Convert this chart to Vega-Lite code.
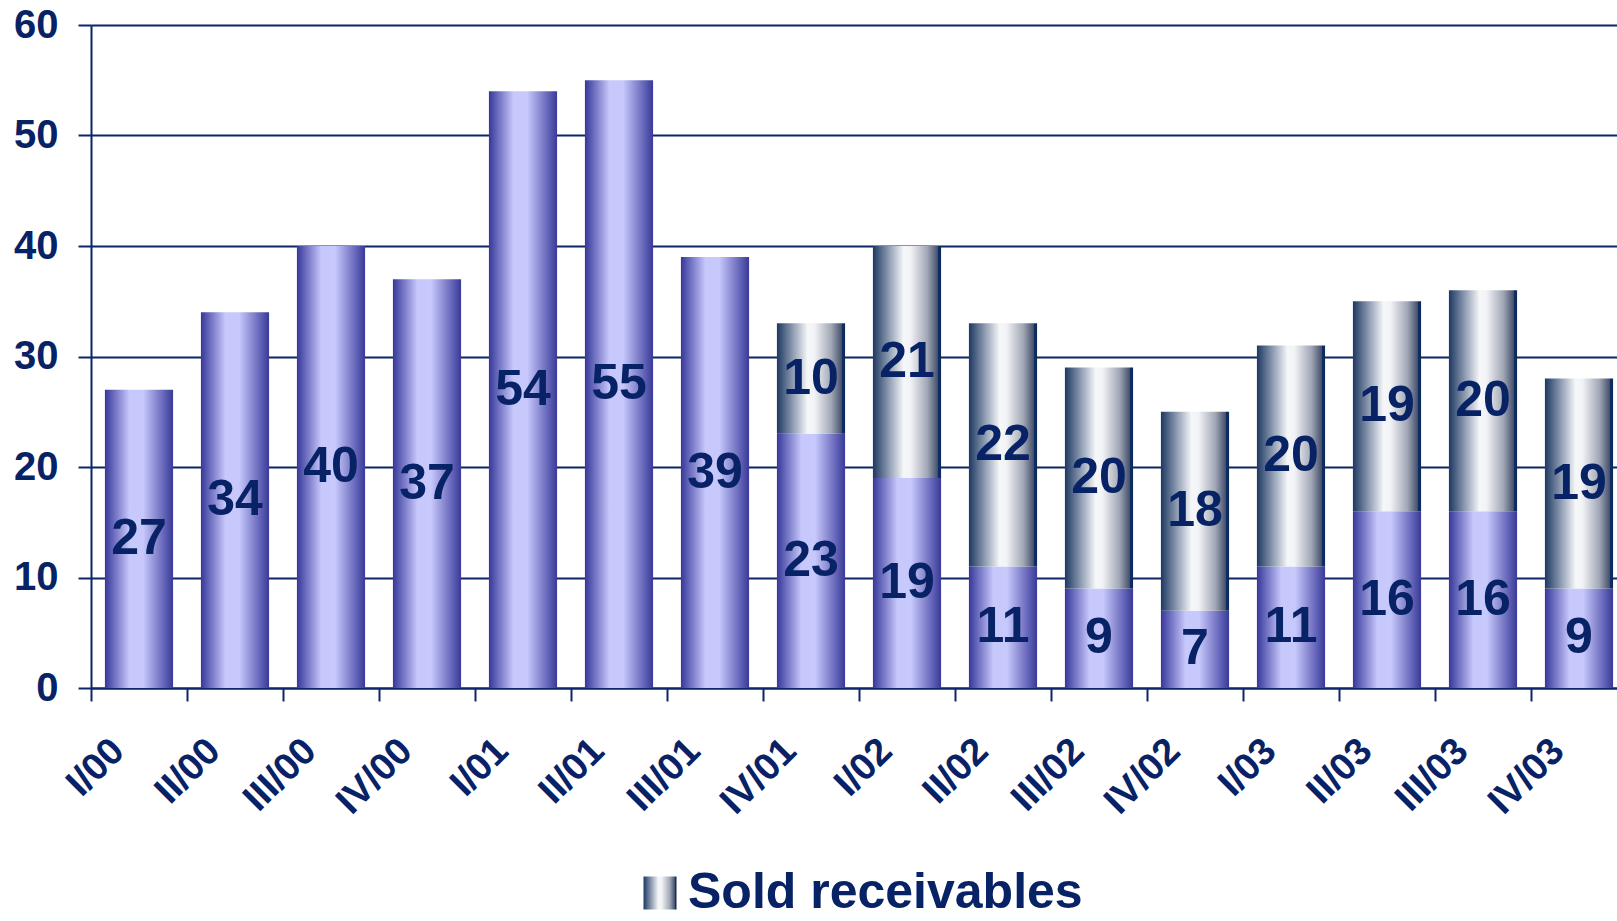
{
  "$schema": "https://vega.github.io/schema/vega-lite/v6.json",
  "width": 1526,
  "height": 663,
  "autosize": {"type": "none"},
  "padding": {"left": 91, "top": 25, "right": 0, "bottom": 233},
  "background": "white",
  "config": {"view": {"stroke": null}, "font": "Liberation Sans"},
  "data": {
    "values": [
      {"quarter": "I/00", "series": "Remaining", "value": 27},
      {"quarter": "II/00", "series": "Remaining", "value": 34},
      {"quarter": "III/00", "series": "Remaining", "value": 40},
      {"quarter": "IV/00", "series": "Remaining", "value": 37},
      {"quarter": "I/01", "series": "Remaining", "value": 54},
      {"quarter": "II/01", "series": "Remaining", "value": 55},
      {"quarter": "III/01", "series": "Remaining", "value": 39},
      {"quarter": "IV/01", "series": "Remaining", "value": 23},
      {"quarter": "IV/01", "series": "Sold receivables", "value": 10},
      {"quarter": "I/02", "series": "Remaining", "value": 19},
      {"quarter": "I/02", "series": "Sold receivables", "value": 21},
      {"quarter": "II/02", "series": "Remaining", "value": 11},
      {"quarter": "II/02", "series": "Sold receivables", "value": 22},
      {"quarter": "III/02", "series": "Remaining", "value": 9},
      {"quarter": "III/02", "series": "Sold receivables", "value": 20},
      {"quarter": "IV/02", "series": "Remaining", "value": 7},
      {"quarter": "IV/02", "series": "Sold receivables", "value": 18},
      {"quarter": "I/03", "series": "Remaining", "value": 11},
      {"quarter": "I/03", "series": "Sold receivables", "value": 20},
      {"quarter": "II/03", "series": "Remaining", "value": 16},
      {"quarter": "II/03", "series": "Sold receivables", "value": 19},
      {"quarter": "III/03", "series": "Remaining", "value": 16},
      {"quarter": "III/03", "series": "Sold receivables", "value": 20},
      {"quarter": "IV/03", "series": "Remaining", "value": 9},
      {"quarter": "IV/03", "series": "Sold receivables", "value": 19}
    ]
  },
  "transform": [
    {"stack": "value", "groupby": ["quarter"], "sort": [{"field": "series", "order": "ascending"}], "as": ["v0", "v1"]}
  ],
  "encoding": {
    "x": {
      "field": "quarter",
      "type": "nominal",
      "sort": ["I/00", "II/00", "III/00", "IV/00", "I/01", "II/01", "III/01", "IV/01", "I/02", "II/02", "III/02", "IV/02", "I/03", "II/03", "III/03", "IV/03"],
      "scale": {"range": [0, 1536], "paddingInner": 0, "paddingOuter": 0},
      "axis": {
        "title": null,
        "tickBand": "extent",
        "tickSize": 13,
        "tickWidth": 2,
        "tickColor": "#0b2566",
        "domainColor": "#0b2566",
        "domainWidth": 2,
        "grid": false,
        "labelAngle": -45,
        "labelAlign": "right",
        "labelBaseline": "middle",
        "labelFont": "Liberation Sans",
        "labelFontSize": 38,
        "labelFontWeight": "bold",
        "labelColor": "#082266",
        "labelPadding": 44,
        "labelOffset": -21
      }
    },
    "y": {
      "field": "v0",
      "type": "quantitative",
      "scale": {"domain": [0, 60], "nice": false},
      "axis": {
        "title": null,
        "values": [0, 10, 20, 30, 40, 50, 60],
        "tickSize": 13,
        "tickWidth": 2,
        "tickColor": "#0b2566",
        "domainColor": "#0b2566",
        "domainWidth": 2,
        "grid": true,
        "gridColor": "#0b2566",
        "gridWidth": 2,
        "gridOpacity": 1,
        "labelFont": "Liberation Sans",
        "labelFontSize": 40,
        "labelFontWeight": "bold",
        "labelColor": "#082266",
        "labelPadding": 20
      }
    }
  },
  "layer": [
    {
      "transform": [{"filter": "datum.series === 'Remaining'"}],
      "mark": {
        "type": "bar",
        "width": {"band": 0.71},
        "color": {
          "gradient": "linear", "x1": 0, "y1": 0, "x2": 1, "y2": 0,
          "stops": [
            {"offset": 0, "color": "#36379a"},
            {"offset": 0.36, "color": "#c7c8fb"},
            {"offset": 0.56, "color": "#c7c8fb"},
            {"offset": 1, "color": "#39399a"}
          ]
        }
      },
      "encoding": {"y2": {"field": "v1"}}
    },
    {
      "transform": [{"filter": "datum.series === 'Sold receivables'"}],
      "mark": {
        "type": "bar",
        "width": {"band": 0.71},
        "color": {
          "gradient": "linear", "x1": 0, "y1": 0, "x2": 1, "y2": 0,
          "stops": [
            {"offset": 0, "color": "#1d3862"},
            {"offset": 0.45, "color": "#f6f7f9"},
            {"offset": 0.55, "color": "#f2f3f6"},
            {"offset": 0.8, "color": "#a0a6b4"},
            {"offset": 0.95, "color": "#44506d"},
            {"offset": 0.96, "color": "#0e2c5e"},
            {"offset": 1, "color": "#0e2c5e"}
          ]
        }
      },
      "encoding": {
        "y2": {"field": "v1"},
        "opacity": {
          "field": "series",
          "type": "nominal",
          "scale": {"range": [1, 1]},
          "legend": {
            "orient": "none",
            "legendX": 544,
            "legendY": 843,
            "title": null,
            "symbolType": "square",
            "symbolSize": 1089,
            "symbolStrokeWidth": 0,
            "labelFont": "Liberation Sans",
            "labelFontSize": 50,
            "labelFontWeight": "bold",
            "labelColor": "#082266",
            "labelOffset": 3,
            "labelLimit": 600,
            "encode": {
              "symbols": {
                "update": {
                  "fill": {"value": {
                    "gradient": "linear", "x1": 0, "y1": 0, "x2": 1, "y2": 0,
                    "stops": [
                      {"offset": 0, "color": "#1d3862"},
                      {"offset": 0.4, "color": "#f6f7f9"},
                      {"offset": 0.55, "color": "#8c94a6"},
                      {"offset": 0.7, "color": "#f6f7f9"},
                      {"offset": 1, "color": "#0e2c5e"}
                    ]
                  }},
                  "opacity": {"value": 1}
                }
              }
            }
          }
        }
      }
    },
    {
      "transform": [{"calculate": "(datum.v0 + datum.v1) / 2", "as": "mid"}],
      "mark": {
        "type": "text",
        "font": "Liberation Sans",
        "fontSize": 50,
        "fontWeight": "bold",
        "color": "#082266",
        "align": "center",
        "baseline": "middle"
      },
      "encoding": {
        "y": {"field": "mid", "type": "quantitative"},
        "text": {"field": "value", "type": "quantitative"}
      }
    }
  ]
}
